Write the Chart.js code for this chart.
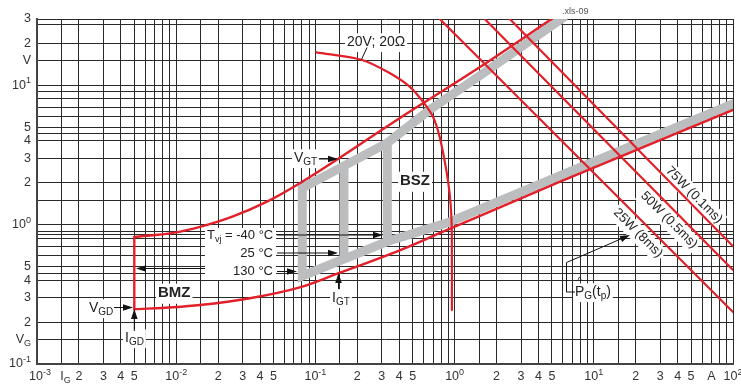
<!DOCTYPE html>
<html><head><meta charset="utf-8">
<script src="https://cdn.jsdelivr.net/npm/chart.js@4.4.0/dist/chart.umd.min.js"></script>
<style>html,body{margin:0;padding:0;background:#fff}</style>
</head><body>
<canvas id="c" width="741" height="387"></canvas>
<script>
// ---------- data ----------
// load line 20 V / 20 Ohm : [I_G (A), V_G (V)]
const loadLine = [[0.1017,17.3],[0.214,15.3],[0.341,12.3],[0.475,9.82],[0.592,7.66],[0.698,5.98],[0.78,4.29],[0.871,2.48],[0.921,1.68],[0.945,1.21],[0.955,0.869],[0.956,0.244]];
// upper limit of gate characteristic
const upperBound = [[0.005,0.817],[0.0095,0.873],[0.0148,0.964],[0.0256,1.147],[0.0445,1.458],[0.0772,1.987],[0.4028,5.82],[1.512,13.5],[4.97,30]];
// lower limit of gate characteristic
const lowerBound = [[0.005,0.247],[0.0095,0.2555],[0.0148,0.265],[0.0338,0.2965],[0.0772,0.355],[0.142,0.443],[0.403,0.655],[0.78,0.869],[5.67,2.03],[100,6.68]];
// I_GD vertical limit
const igdLine = [[0.005,0.247],[0.005,0.817]];
// max. gate power lines
const p75 = [[2.49,30],[100,0.70]];
const p50 = [[1.645,30],[100,0.473]];
const p25 = [[0.782,30],[100,0.236]];
// V_GT / I_GT band (grey)
const grayBand = [[100,7.38],[5.67,2.242],[0.921,1.047],[0.3287,0.757],[0.1604,0.5675],[0.0805,0.4287],[0.0805,1.838],[0.1604,2.645],[0.3287,3.87],[0.6614,6.68],[1.51,11.72],[5.86,30.1]];
const grayBar25 = [[0.1604,0.5675],[0.1604,2.645]];
const grayBarM40 = [[0.3287,0.757],[0.3287,3.87]];

// grid values
const xMant = [1,1.5,2,3,4,5,6,7,8,9];
const xDecades = [0.001,0.01,0.1,1,10];
const yGridVals = [0.1,0.15,0.2,0.3,0.4,0.45,0.5,0.6,0.7,0.8,0.85,0.9,
                   1,1.5,2,3,4,4.5,5,6,7,8,9,
                   10,15,20,27.5,30];
// tick labels: [value, text, kind of suffix ('sup'|'sub'|''), suffix]
const xTickLabels = [[0.001,'10','sup','-3'],[0.0015,'I','sub','G'],[0.002,'2'],[0.003,'3'],[0.004,'4'],[0.005,'5'],
  [0.01,'10','sup','-2'],[0.02,'2'],[0.03,'3'],[0.04,'4'],[0.05,'5'],
  [0.1,'10','sup','-1'],[0.2,'2'],[0.3,'3'],[0.4,'4'],[0.5,'5'],
  [1,'10','sup','0'],[2,'2'],[3,'3'],[4,'4'],[5,'5'],
  [10,'10','sup','1'],[20,'2'],[30,'3'],[40,'4'],[50,'5'],[70,'A'],[100,'10','sup','2']];
const yTickLabels = [[30,'3'],[20,'2'],[15,'V'],[10,'10','sup','1'],[5,'5'],[4,'4'],[3,'3'],[2,'2'],
  [1,'10','sup','0'],[0.5,'5'],[0.4,'4'],[0.3,'3'],[0.2,'2'],[0.15,'V','sub','G'],[0.1,'10','sup','-1']];

const xGridVals = [];
xDecades.forEach(d => xMant.forEach(m => xGridVals.push(+(m*d).toPrecision(3))));
xGridVals.push(100);

// ---------- styles ----------
const FONT = '"Liberation Sans", Arial, Helvetica, sans-serif';
const RED = '#e2202a';
const GREY = '#bcbdbf';
const pts = a => a.map(([x,y]) => ({x, y}));

function ds(a, color, width, mode, order, cap) {
  const d = {data: pts(a), borderColor: color, borderWidth: width, pointRadius: 0, tension: 0,
          fill: false, clip: 0, order: order, borderCapStyle: cap || 'round', borderJoinStyle: 'miter'};
  if (mode === 'mono') { d.cubicInterpolationMode = 'monotone'; d.tension = 0.4; }
  else if (typeof mode === 'number') d.tension = mode;
  return d;
}

// ---------- text helpers ----------
function measureParts(ctx, parts, fs, bold) {
  let w = 0;
  const ws = parts.map(([t,k]) => { ctx.font = (bold?'bold ':'') + (k ? Math.round(fs*0.7) : fs) + 'px ' + FONT; const m = ctx.measureText(t).width; w += m; return m; });
  return {w, ws};
}
function richText(ctx, parts, x, y, o, pass) {
  const fs = o.size || 13;
  const {w, ws} = measureParts(ctx, parts, fs, o.bold);
  let sx = o.align === 'right' ? x - w : o.align === 'center' ? x - w/2 : x;
  if (pass === 'bg') {
    if (o.bg) { ctx.fillStyle = '#fff'; ctx.fillRect(sx - 2, y - fs*0.62, w + 4, fs*1.34); }
    return;
  }
  ctx.fillStyle = o.color || '#222'; ctx.textBaseline = 'middle'; ctx.textAlign = 'left';
  parts.forEach(([t,k], i) => {
    ctx.font = (o.bold?'bold ':'') + (k ? Math.round(fs*0.7) : fs) + 'px ' + FONT;
    const dy = k === 1 ? fs*0.32 : k === 2 ? -fs*0.36 : 0;
    ctx.fillText(t, sx, y + dy);
    if (o.hat === i) { ctx.font = Math.round(fs*0.75) + 'px ' + FONT; ctx.textAlign='center'; ctx.fillText('^', sx + ws[i]/2, y - fs*0.72); ctx.textAlign='left'; }
    sx += ws[i];
  });
}
function arrow(ctx, x1, y1, x2, y2) {
  const a = Math.atan2(y2 - y1, x2 - x1), L = 10, W = 3.3;
  ctx.strokeStyle = '#111'; ctx.lineWidth = 1;
  ctx.beginPath(); ctx.moveTo(x1, y1); ctx.lineTo(x2 - L*0.7*Math.cos(a), y2 - L*0.7*Math.sin(a)); ctx.stroke();
  ctx.fillStyle = '#111'; ctx.beginPath(); ctx.moveTo(x2, y2);
  ctx.lineTo(x2 - L*Math.cos(a) + W*Math.sin(a), y2 - L*Math.sin(a) - W*Math.cos(a));
  ctx.lineTo(x2 - L*Math.cos(a) - W*Math.sin(a), y2 - L*Math.sin(a) + W*Math.cos(a));
  ctx.closePath(); ctx.fill();
}
function line(ctx, arr) {
  ctx.strokeStyle = '#111'; ctx.lineWidth = 1; ctx.beginPath();
  arr.forEach(([x,y], i) => i ? ctx.lineTo(x,y) : ctx.moveTo(x,y)); ctx.stroke();
}

// annotation texts (canvas pixel layout)
const N = 0, SUB = 1;
const notes = [
  {parts:[['20V; 20Ω',N]], x:347, y:42, size:14, bg:true},
  {parts:[['V',N],['GT',SUB]], x:294, y:158, size:14, bg:true},
  {parts:[['BSZ',N]], x:400, y:181, size:15, bold:true, bg:true},
  {parts:[['T',N],['vj',SUB],[' = -40 °C',N]], x:207, y:235, size:13},
  {parts:[['25 °C',N]], x:273, y:253, size:13, align:'right'},
  {parts:[['130 °C',N]], x:273, y:271.5, size:13, align:'right'},
  {parts:[['BMZ',N]], x:158, y:293, size:15, bold:true, bg:true},
  {parts:[['V',N],['GD',SUB]], x:89, y:308, size:14, bg:true},
  {parts:[['I',N],['GD',SUB]], x:125, y:338, size:14, bg:true},
  {parts:[['I',N],['GT',SUB]], x:332, y:298, size:14, bg:true},
  {parts:[['P',N],['G',SUB],['(t',N],['p',SUB],[')',N]], x:575, y:292, size:14, bg:true, hat:0},
  {parts:[['75W (0.1ms)',N]], x:694, y:195, size:13, align:'center', bg:true, rot:Math.PI/4},
  {parts:[['50W (0.5ms)',N]], x:669, y:220, size:13, align:'center', bg:true, rot:Math.PI/4},
  {parts:[['25W (8ms)',N]], x:638, y:233, size:13, align:'center', bg:true, rot:Math.PI/4},
  {parts:[['.xls-09',N]], x:562, y:12, size:9, color:'#555'}
];

function drawNotes(ctx, pass) {
  notes.forEach(n => {
    if (n.rot) { ctx.save(); ctx.translate(n.x, n.y); ctx.rotate(n.rot); richText(ctx, n.parts, 0, 0, n, pass); ctx.restore(); }
    else richText(ctx, n.parts, n.x, n.y, n, pass);
  });
}

const annotPlugin = {
  id: 'annot',
  beforeDatasetsDraw(chart) {
    const ctx = chart.ctx; ctx.save();
    ctx.fillStyle = '#fff'; ctx.fillRect(205, 228, 71, 52);
    drawNotes(ctx, 'bg');
    ctx.restore();
  },
  afterDatasetsDraw(chart) {
    const ctx = chart.ctx; ctx.save();
    drawNotes(ctx, 'text');
    // arrows
    arrow(ctx, 319, 159, 338, 159);        // V_GT
    arrow(ctx, 277, 235, 383, 235);        // -40 C
    arrow(ctx, 277, 253, 338, 253);        // 25 C
    arrow(ctx, 277, 271.5, 297, 271.5);    // 130 C
    arrow(ctx, 205, 268.5, 136, 268.5);    // to I_GD line
    arrow(ctx, 114, 307.5, 133, 307.5);    // V_GD
    arrow(ctx, 134.3, 331, 134.3, 309);    // I_GD
    arrow(ctx, 338.5, 289, 338.5, 273);    // I_GT
    arrow(ctx, 566.5, 262.5, 630, 235);    // P_G leader
    line(ctx, [[575, 292], [566.5, 292], [566.5, 262.5]]);
    line(ctx, [[367, 47.5], [361.5, 59.5]]); // 20V leader
    ctx.restore();
  },
  afterDraw(chart) {
    const ctx = chart.ctx, xs = chart.scales.x, ys = chart.scales.y;
    ctx.save();
    const kindOf = k => k === 'sup' ? 2 : k === 'sub' ? 1 : 0;
    xTickLabels.forEach(([v, t, k, s]) => {
      const parts = [[t, 0]]; if (s) parts.push([s, kindOf(k)]);
      let px = xs.getPixelForValue(v);
      if (v === 0.001) px += 3;
      if (v === 0.0015) px += 4;
      richText(ctx, parts, px, 377, {size:12.5, align:'center', color:'#333'}, 'text');
    });
    yTickLabels.forEach(([v, t, k, s]) => {
      const parts = [[t, 0]]; if (s) parts.push([s, kindOf(k)]);
      richText(ctx, parts, 31, ys.getPixelForValue(v), {size:12.5, align:'right', color:'#333'}, 'text');
    });
    ctx.restore();
  }
};

new Chart(document.getElementById('c'), {
  type: 'line',
  data: {
    datasets: [
      ds(loadLine, RED, 2.2, 0.3, 1),
      ds(upperBound, RED, 2.4, 'mono', 1),
      ds(lowerBound, RED, 2.4, 'mono', 1),
      ds(igdLine, RED, 2.4, 0, 1),
      ds(p75, RED, 2.2, 0, 1),
      ds(p50, RED, 2.2, 0, 1),
      ds(p25, RED, 2.2, 0, 1),
      ds(grayBand, GREY, 9, 0, 10, 'square'),
      ds(grayBar25, GREY, 9, 0, 10, 'butt'),
      ds(grayBarM40, GREY, 9, 0, 10, 'butt')
    ]
  },
  options: {
    responsive: false, devicePixelRatio: 1, animation: false,
    layout: {padding: {left: 37, right: 8, top: 19, bottom: 23}},
    plugins: {legend: {display: false}, tooltip: {enabled: false}},
    scales: {
      x: {type: 'logarithmic', min: 0.001, max: 100,
          afterBuildTicks: a => { a.ticks = xGridVals.map(v => ({value: v})); },
          afterFit: s => { s.height = 0; },
          ticks: {display: false},
          grid: {color: '#2a2a2a', lineWidth: 1, drawTicks: false},
          border: {display: true, color: '#444', width: 2}},
      y: {type: 'logarithmic', min: 0.1, max: 30,
          afterBuildTicks: a => { a.ticks = yGridVals.map(v => ({value: v})); },
          afterFit: s => { s.width = 0; },
          ticks: {display: false},
          grid: {color: '#2a2a2a', lineWidth: 1, drawTicks: false},
          border: {display: true, color: '#444', width: 2}}
    }
  },
  plugins: [annotPlugin]
});
</script>
</body></html>
